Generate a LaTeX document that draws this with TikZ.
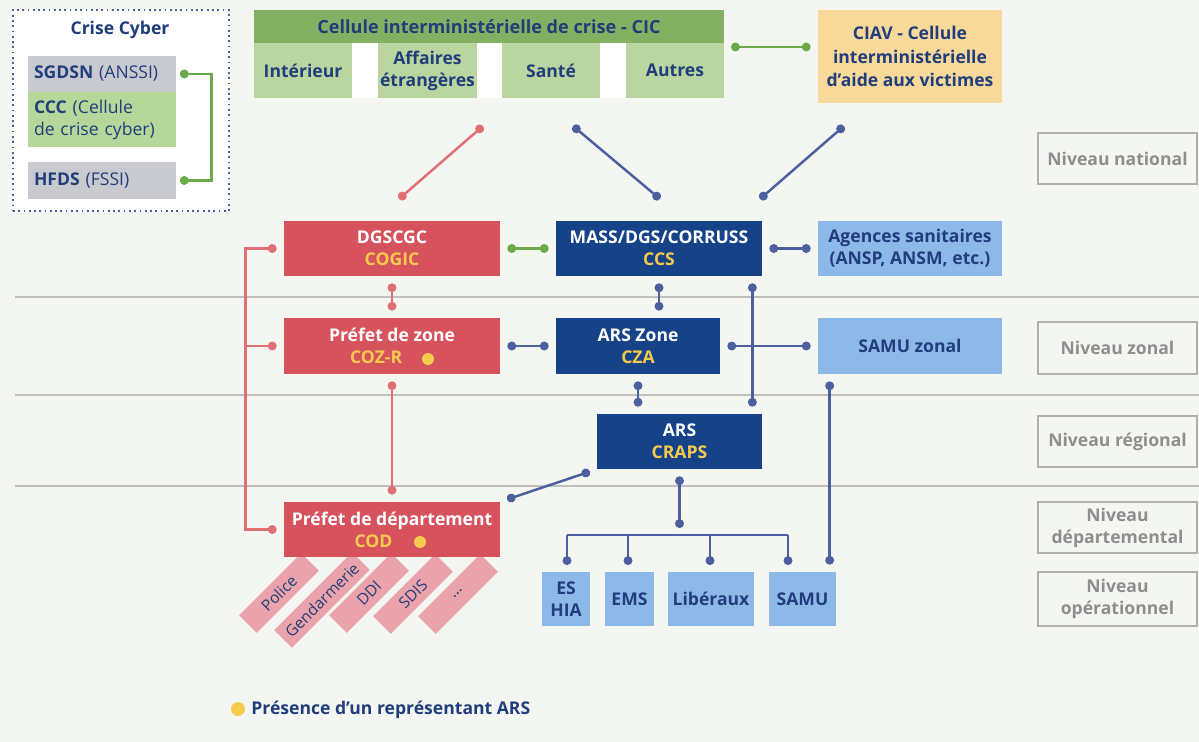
\documentclass[tikz,border=0pt]{standalone}
\usepackage{fontspec}
\setmainfont{Open Sans}
\usepackage{tikz}
\usetikzlibrary{positioning}
\usetikzlibrary{calc}
\usetikzlibrary{arrows.meta}

\definecolor{bgc}{RGB}{244,246,242}
\definecolor{navy}{RGB}{33,62,124}
\definecolor{cicg}{RGB}{132,176,99}
\definecolor{cicl}{RGB}{186,213,160}
\definecolor{cybg}{RGB}{201,202,207}
\definecolor{cybl}{RGB}{182,214,154}
\definecolor{ciavc}{RGB}{248,217,154}
\definecolor{redb}{RGB}{214,83,94}
\definecolor{blued}{RGB}{22,67,136}
\definecolor{bluel}{RGB}{141,185,233}
\definecolor{pinkb}{RGB}{235,163,171}
\definecolor{yel}{RGB}{246,202,77}
\definecolor{redl}{RGB}{224,111,118}
\definecolor{bluec}{RGB}{76,95,159}
\definecolor{greenl}{RGB}{107,170,72}
\definecolor{grayb}{RGB}{176,176,176}
\definecolor{grayt}{RGB}{142,142,142}
\definecolor{sepc}{RGB}{190,191,190}

\newcommand{\pxl}{0.02cm}

\tikzset{
  box/.style={rectangle, inner sep=0pt, align=center, text=navy,
    font=\bfseries\fontsize{10}{12.5}\selectfont},
  wh/.style 2 args={minimum width=#1*\pxl, minimum height=#2*\pxl},
  redbox/.style={box, fill=redb, text=white},
  bluebox/.style={box, fill=blued, text=white},
  lightbox/.style={box, fill=bluel},
  cybbox/.style={box, align=left, text width=136*\pxl, inner xsep=6*\pxl,
    font=\fontsize{10}{12.5}\selectfont},
  pinkbox/.style={box, fill=pinkb, rotate=45, font=\fontsize{8.9}{10}\selectfont},
  levelbox/.style={box, draw=grayb, line width=0.9pt, text=grayt},
  sep/.style={draw=sepc, line width=1pt},
  con/.style={line width=1.4pt},
  dots/.style={con, {Circle[length=5pt]}-{Circle[length=5pt]}, shorten <=4pt, shorten >=4pt},
  enddots/.style={con, {Circle[length=5pt]}-{Circle[length=5pt]}},
  startdot/.style={con, {Circle[length=5pt]}-, shorten <=4pt},
  rdots/.style={dots, draw=redl},
  bdots/.style={dots, draw=bluec},
  gdots/.style={dots, draw=greenl},
}

\begin{document}
\begin{tikzpicture}[x=0.02cm, y=-0.02cm]
\useasboundingbox[fill=bgc] (0,0) rectangle (1199,742);

% niveaux
\foreach \y in {297,395,486} {
\draw[sep] (15,\y) -- (1199,\y);
}
\node[levelbox, wh={159}{51}] (lnat) at (1117.5,158.5) {Niveau national};
\node[levelbox, wh={159}{52}] (lzon) at (1117.5,348) {Niveau zonal};
\node[levelbox, wh={159}{51}] (lreg) at (1117.5,441.5) {Niveau régional};
\node[levelbox, wh={159}{51}] (ldep) at (1117.5,527.5) {Niveau\\départemental};
\node[levelbox, wh={159}{54}] (lope) at (1117.5,599) {Niveau\\opérationnel};

% crise cyber
\node[rectangle, fill=white, draw=bluec, dotted, line width=1pt, wh={216}{201}] (cyber) at (121,110.5) {};
\node[box] (cybt) at (120,30) {Crise Cyber};
\node[cybbox, fill=cybg, minimum height=36*\pxl] (sgdsn) at (102,74) {\textbf{SGDSN} (ANSSI)};
\node[cybbox, fill=cybl, minimum height=55*\pxl] (ccc) at (102,119.5) {\textbf{CCC} (Cellule\\de crise cyber)};
\node[cybbox, fill=cybg, minimum height=37*\pxl] (hfds) at (102,180.5) {\textbf{HFDS} (FSSI)};
\draw[gdots, shorten <=2pt, shorten >=2pt] (sgdsn.east) -- ++(35,0) |- (hfds.east);

% CIC
\node[rectangle, fill=white, wh={470}{55}] (cicrow) at (489,70.5) {};
\node[box, fill=cicg, wh={470}{33}, font=\bfseries\fontsize{10.3}{12.5}\selectfont] (cic) at (489,26.5) {Cellule interministérielle de crise - CIC};
\node[box, fill=cicl, wh={98}{55}] (inter) at (303,70.5) {Intérieur};
\node[box, fill=cicl, wh={99}{55}] (affetr) at (427.5,70.5) {Affaires\\étrangères};
\node[box, fill=cicl, wh={98}{55}] (sante) at (551,70.5) {Santé};
\node[box, fill=cicl, wh={98}{55}] (autres) at (675,70.5) {Autres};
\node[box, fill=ciavc, wh={184}{93}, font=\bfseries\fontsize{10}{13.6}\selectfont] (ciav) at (910,56.5) {CIAV - Cellule\\interministérielle\\d'aide aux victimes};
\coordinate (cicr) at (724,47);
\draw[gdots] (cicr) -- (cicr -| ciav.west);

% niveau national
\node[redbox, wh={216}{55}] (cogic) at (392,248.5) {DGSCGC\\\textcolor{yel}{COGIC}};
\node[bluebox, wh={206}{55}] (ccs) at (659,248.5) {MASS/DGS/CORRUSS\\\textcolor{yel}{CCS}};
\node[lightbox, wh={184}{55}] (agences) at (910,248.5) {Agences sanitaires\\(ANSP, ANSM, etc.)};

\coordinate (n1) at (483,126);
\coordinate (n2) at (399,199);
\coordinate (n3) at (573,126);
\coordinate (n4) at (660,199);
\coordinate (n5) at (844,126);
\coordinate (n6) at (760,199);
\draw[enddots, draw=redl] (n1) -- (n2);
\draw[enddots, draw=bluec] (n3) -- (n4);
\draw[enddots, draw=bluec] (n5) -- (n6);

\draw[gdots] (cogic) -- (ccs);
\draw[bdots] (ccs) -- (agences);

% niveau zonal
\node[redbox, wh={216}{56}] (pzone) at (392,346) {Préfet de zone\\\textcolor{yel}{COZ-R}\rule{18pt}{0pt}};
\node[bluebox, wh={164}{56}] (arszone) at (638,346) {ARS Zone\\\textcolor{yel}{CZA}};
\node[lightbox, wh={184}{56}] (samuz) at (910,346) {SAMU zonal};
\fill[yel] (428,359) circle (6);

\draw[rdots] (cogic) -- (pzone);
\draw[bdots] (ccs.south) -- (ccs.south |- arszone.north);
\draw[bdots] (pzone) -- (arszone);
\draw[bdots] (arszone) -- (samuz);

% niveau regional
\node[bluebox, wh={165}{55}] (craps) at (679.5,441.5) {ARS\\\textcolor{yel}{CRAPS}};
\draw[bdots] (arszone.south) -- (arszone.south |- craps.north);
\coordinate (cc) at ($(ccs.south east)+(-10,0)$);
\draw[bdots] (cc) -- (cc |- craps.north);

% niveau departemental
\foreach \t/\x/\y/\l in {Police/279/593/88, Gendarmerie/322/600/110, DDI/369/593/88, SDIS/413/594/88} {
\node[pinkbox, wh={\l}{25}] (p\x) at (\x,\y) {\t};
}
\node[pinkbox, wh={88}{25}] (petc) at (458,594) {\dots};
\node[redbox, wh={216}{55}] (pdept) at (392,529.5) {Préfet de département\\\textcolor{yel}{COD}\rule{21pt}{0pt}};
\fill[yel] (420,542) circle (6);
\draw[rdots] (pzone) -- (pdept);
\draw[bdots] (craps.south west) -- (pdept.north east);

% rail prefets
\draw[rdots] (cogic.west) -- ++(-38,0) |- (pdept.west);
\draw[startdot, draw=redl] (pzone.west) -- ++(-38,0);

% niveau operationnel
\node[lightbox, wh={48}{54}] (eshia) at (566,599) {ES\\HIA};
\node[lightbox, wh={49}{54}] (ems) at (629.5,599) {EMS};
\node[lightbox, wh={86}{54}] (lib) at (711,599) {Libéraux};
\node[lightbox, wh={67}{54}] (samu) at (802.5,599) {SAMU};

\coordinate (bar) at (678,535);
\draw[bdots] (craps.south) -- (craps.south |- bar);
\coordinate (barl) at (567,535);
\coordinate (barr) at (788,535);
\draw[con, draw=bluec] (barl) -- (barr);
\foreach \x/\n in {567/eshia, 628/ems, 710/lib, 788/samu} {
\draw[con, draw=bluec, -{Circle[length=5pt]}, shorten >=4pt] (\x,535) -- (\x,572);
}
\coordinate (sz) at ($(samuz.south west)+(12,0)$);
\draw[bdots] (sz) -- (sz |- samu.north);

% legende
\fill[yel] (238,709) circle (7);
\node[box, anchor=west] (leg) at (251,710) {Présence d'un représentant ARS};
\end{tikzpicture}
\end{document}
